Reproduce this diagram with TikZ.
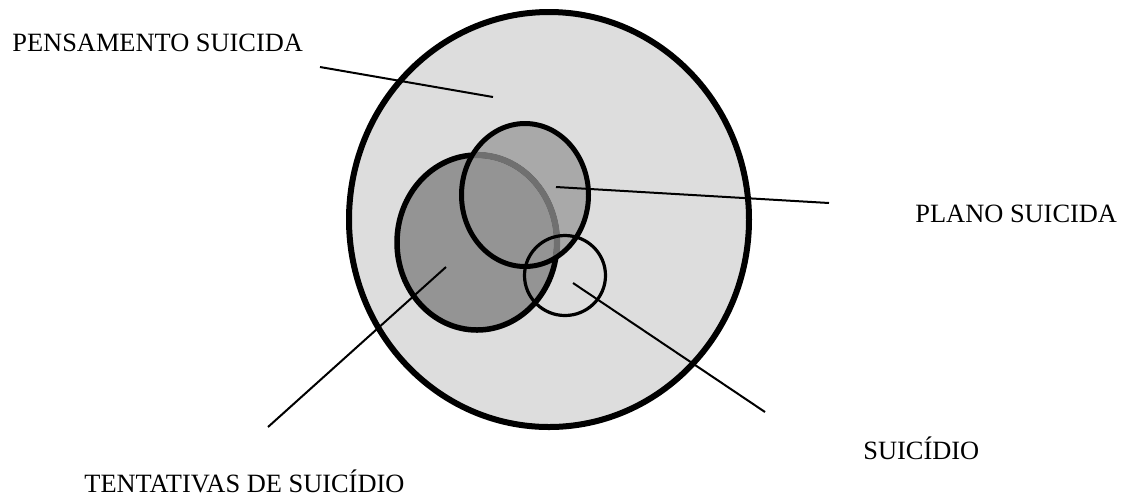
\documentclass[tikz,border=0pt]{standalone}
\usepackage{fontspec}
\setmainfont{Liberation Serif}
\begin{document}
\begin{tikzpicture}[x=0.5pt,y=-0.5pt,
  lbl/.style={anchor=base west,inner sep=0pt,font=\fontsize{13.2pt}{15pt}\selectfont},
  leader/.style={line width=1pt,black},
  outline/.style={line width=2.75pt,black}]
\useasboundingbox (0,0) rectangle (1125,495);
\definecolor{bgc}{gray}{0.867}
\definecolor{planoc}{gray}{0.663}
\definecolor{tentc}{gray}{0.58}
\definecolor{arcc}{gray}{0.44}
% centers
\coordinate (big) at (549,219.5);
\coordinate (plano) at (525,195);
\coordinate (tent) at (477,242.5);
\coordinate (sui) at (565,275.5);
% big circle
\fill[bgc] (big) ellipse [x radius=100pt,y radius=103.75pt];
\draw[line width=3pt] (big) ellipse [x radius=100pt,y radius=103.75pt];
% plano fill
\fill[planoc] (plano) ellipse [x radius=31.75pt,y radius=35.75pt];
% tentativas
\fill[tentc] (tent) ellipse [x radius=40pt,y radius=43.75pt];
\draw[outline] (tent) ellipse [x radius=40pt,y radius=43.75pt];
\begin{scope}
\clip (plano) ellipse [x radius=31.75pt,y radius=35.75pt];
\draw[line width=3.1pt,arcc] (tent) ellipse [x radius=40pt,y radius=43.75pt];
\end{scope}
\draw[line width=2.5pt] (plano) ellipse [x radius=31.75pt,y radius=35.75pt];
% suicidio circle
\draw[line width=1.6pt] (sui) ellipse [x radius=20.25pt,y radius=20pt];
% labels
\node[lbl] (lpens) at (12,51) {PENSAMENTO SUICIDA};
\node[lbl] (lplano) at (915,222) {PLANO SUICIDA};
\node[lbl] (lsui) at (863,459) {SUICÍDIO};
\node[lbl] (ltent) at (84,492) {TENTATIVAS DE SUICÍDIO};
% leader lines
\coordinate (p1) at (320,67); \coordinate (p2) at (493,97);
\coordinate (q1) at (556,187); \coordinate (q2) at (829,203);
\coordinate (t1) at (446,267); \coordinate (t2) at (268,427);
\coordinate (s1) at (573,283); \coordinate (s2) at (765,412);
\draw[leader] (p1) -- (p2);
\draw[leader] (q1) -- (q2);
\draw[leader] (t1) -- (t2);
\draw[leader] (s1) -- (s2);
\end{tikzpicture}
\end{document}
